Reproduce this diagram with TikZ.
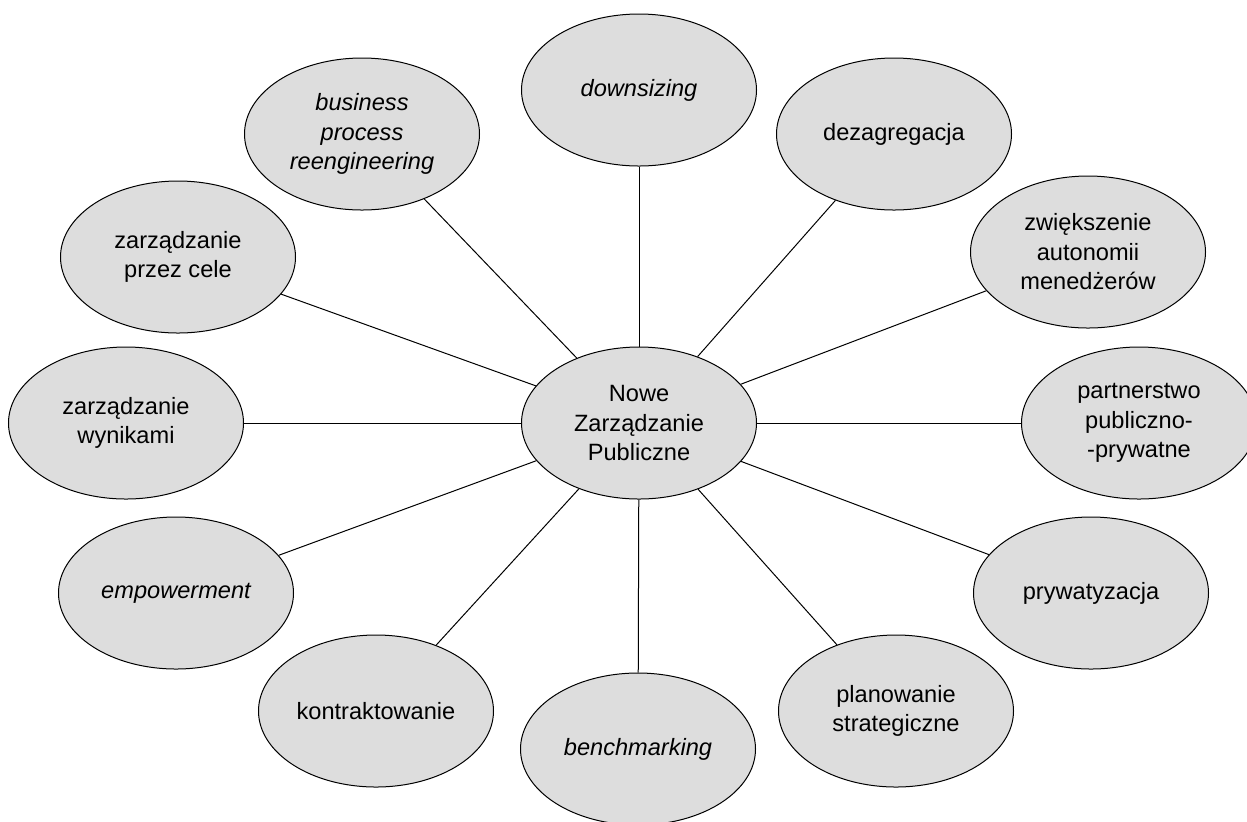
\documentclass[tikz,border=0pt]{standalone}
\usepackage{fontspec}
\setmainfont{Liberation Sans}
\usepackage{xcolor}
\usetikzlibrary{shapes.geometric}

\definecolor{bubblegray}{HTML}{DDDDDD}

\begin{document}
\begin{tikzpicture}[
  x=0.5pt, y=-0.5pt,
  idea/.style={ellipse, draw=black, fill=bubblegray, line width=0.5pt, minimum width=117.5pt, minimum height=76pt, inner sep=0pt, align=center, font=\fontsize{11.8}{14.75}\selectfont},
  term/.style={idea, font=\fontsize{11.8}{14.75}\selectfont\itshape},
  link/.style={line width=0.5pt}
]
\useasboundingbox[fill=white] (0,0) rectangle (1247,821);

% Centre
\node (nzp) [idea] at (639,423) {Nowe\\Zarządzanie\\Publiczne};

% Ring of ideas
\node (down) [term] at (639,90) {downsizing};
\node (dezag) [idea] at (894,134) {dezagregacja};
\node (autonom) [idea] at (1088,252) {zwiększenie\\autonomii\\menedżerów};
\node (partner) [idea] at (1139,423) {partnerstwo\\publiczno-\\-prywatne};
\node (pryw) [idea] at (1091,593) {prywatyzacja};
\node (plan) [idea] at (896,711) {planowanie\\strategiczne};
\node (bench) [term] at (638,749) {benchmarking};
\node (kontr) [idea] at (376,711) {kontraktowanie};
\node (empow) [term] at (176,593) {empowerment};
\node (wyniki) [idea] at (126,423) {zarządzanie\\wynikami};
\node (cele) [idea] at (178,257) {zarządzanie\\przez cele};
\node (bpr) [term] at (362,134) {business\\process\\reengineering};

% Spokes
\draw [link] (nzp) -- (down);
\draw [link] (nzp) -- (dezag);
\draw [link] (nzp) -- (autonom);
\draw [link] (nzp) -- (partner);
\draw [link] (nzp) -- (pryw);
\draw [link] (nzp) -- (plan);
\draw [link] (nzp) -- (bench);
\draw [link] (nzp) -- (kontr);
\draw [link] (nzp) -- (empow);
\draw [link] (nzp) -- (wyniki);
\draw [link] (nzp) -- (cele);
\draw [link] (nzp) -- (bpr);
\end{tikzpicture}
\end{document}
